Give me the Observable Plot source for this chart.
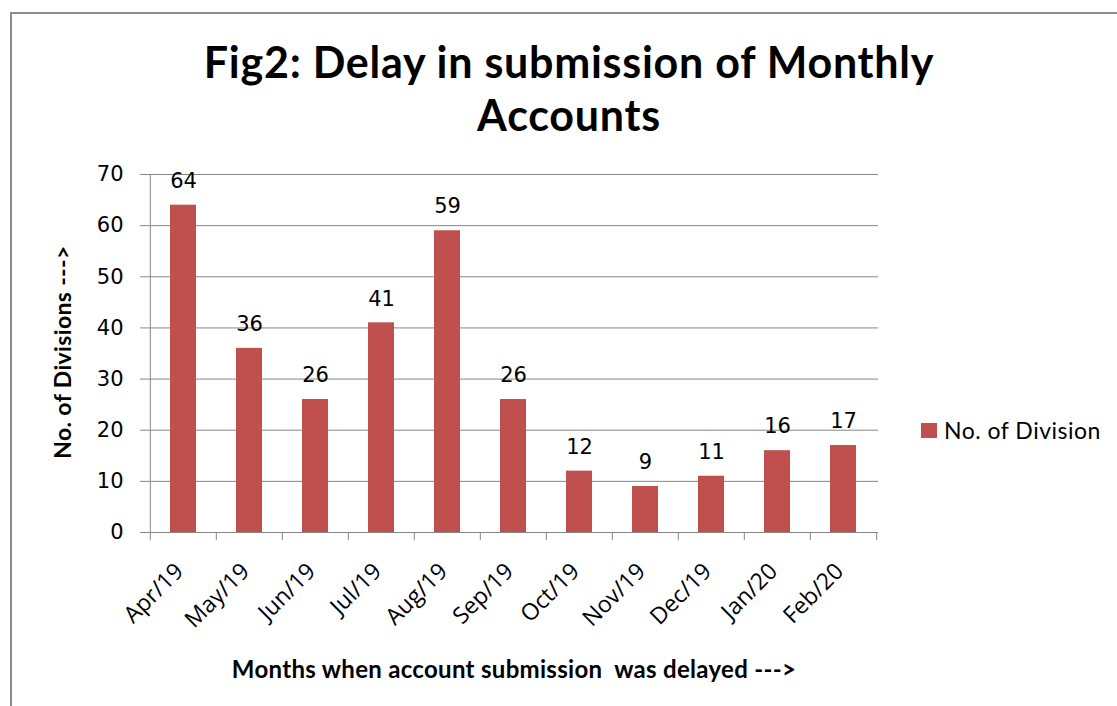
<!DOCTYPE html>
<html>
<head>
<meta charset="utf-8">
<script src="https://cdn.jsdelivr.net/npm/d3@7"></script>
<script src="https://cdn.jsdelivr.net/npm/@observablehq/plot@0.6"></script>
<style>
  html, body { margin: 0; padding: 0; background: #fff; }
  body { width: 1117px; height: 706px; position: relative; overflow: hidden; font-family: Lato, "Open Sans", sans-serif; }
  #frame { position: absolute; left: 10px; top: 12px; width: 1200px; height: 800px; border: 2px solid #8c8c8c; box-sizing: border-box; }
  #chart { position: absolute; left: 0; top: 0; }
  .title { position: absolute; left: 0; width: 1138px; text-align: center; font-weight: bold; font-size: 43px; letter-spacing: 0.75px; color: #000; line-height: 1; }
  #ytitle { position: absolute; left: 62px; top: 352px; transform: translate(-50%, -50%) rotate(-90deg); white-space: nowrap; font-weight: bold; font-size: 23px; letter-spacing: 0.35px; }
  #xtitle { position: absolute; left: 514px; top: 668px; transform: translate(-50%, -50%); white-space: nowrap; font-weight: bold; font-size: 24px; letter-spacing: 0.3px; }
  #legend { position: absolute; left: 921px; top: 430px; transform: translateY(-50%); display: flex; align-items: center; font-size: 23px; letter-spacing: 0.5px; white-space: nowrap; }
  #legend .sw { width: 16px; height: 15px; background: #C0504D; margin-right: 7px; }
</style>
</head>
<body>
<div id="frame"></div>
<div id="chart"></div>
<div class="title" style="top:40px">Fig2: Delay in submission of Monthly</div>
<div class="title" style="top:93px">Accounts</div>
<div id="ytitle">No. of Divisions ---&gt;</div>
<div id="xtitle">Months when account submission&nbsp; was delayed ---&gt;</div>
<div id="legend"><div class="sw"></div><span>No. of Division</span></div>
<script>
const months = ["Apr/19","May/19","Jun/19","Jul/19","Aug/19","Sep/19","Oct/19","Nov/19","Dec/19","Jan/20","Feb/20"];
const divisions = [64, 36, 26, 41, 59, 26, 12, 9, 11, 16, 17];
const yTicks = [0, 10, 20, 30, 40, 50, 60, 70];
const seriesName = "No. of Division";

const data = months.map((m, i) => ({month: m, value: divisions[i]}));

const W = 1117, H = 706;
const mL = 148, mR = W - 878, mT = 174, mB = H - 532;
const step = (W - mL - mR) / months.length;
const grey = "#868686";
const numFont = "'DejaVu Sans', sans-serif";
const tickFont = "'Open Sans', Lato, sans-serif";

const chart = Plot.plot({
  width: W,
  height: H,
  marginLeft: mL,
  marginRight: mR,
  marginTop: mT,
  marginBottom: mB,
  style: {background: "transparent", overflow: "visible"},
  x: {type: "band", domain: months, paddingInner: 0.608, paddingOuter: 0.304, label: null},
  y: {domain: [0, 70], label: null},
  marks: [
    Plot.gridY(yTicks, {stroke: grey, strokeOpacity: 1, strokeWidth: 1}),
    Plot.ruleX([months[0]], {stroke: grey, dx: -step / 2}),
    Plot.axisY({ticks: yTicks, tickSize: 8, tickPadding: 17, stroke: grey, fill: "#000", fontSize: 21, fontFamily: numFont, label: null}),
    Plot.axisX({tickSize: 8, text: null, stroke: grey, dx: -step / 2, label: null}),
    Plot.axisX([months[months.length - 1]], {tickSize: 8, text: null, stroke: grey, dx: step / 2, label: null}),
    Plot.barY(data, {x: "month", y: "value", fill: "#C0504D"}),
    Plot.ruleY([0], {stroke: grey}),
    Plot.text(data, {x: "month", y: "value", text: d => String(d.value), dy: -24, fontSize: 21, fontFamily: numFont, fill: "#000"}),
    Plot.axisX({tickSize: 0, tickPadding: 35, dx: -4, tickRotate: -45, fontSize: 23, fontFamily: tickFont, fill: "#000", label: null})
  ]
});
document.getElementById("chart").appendChild(chart);
</script>
</body>
</html>
